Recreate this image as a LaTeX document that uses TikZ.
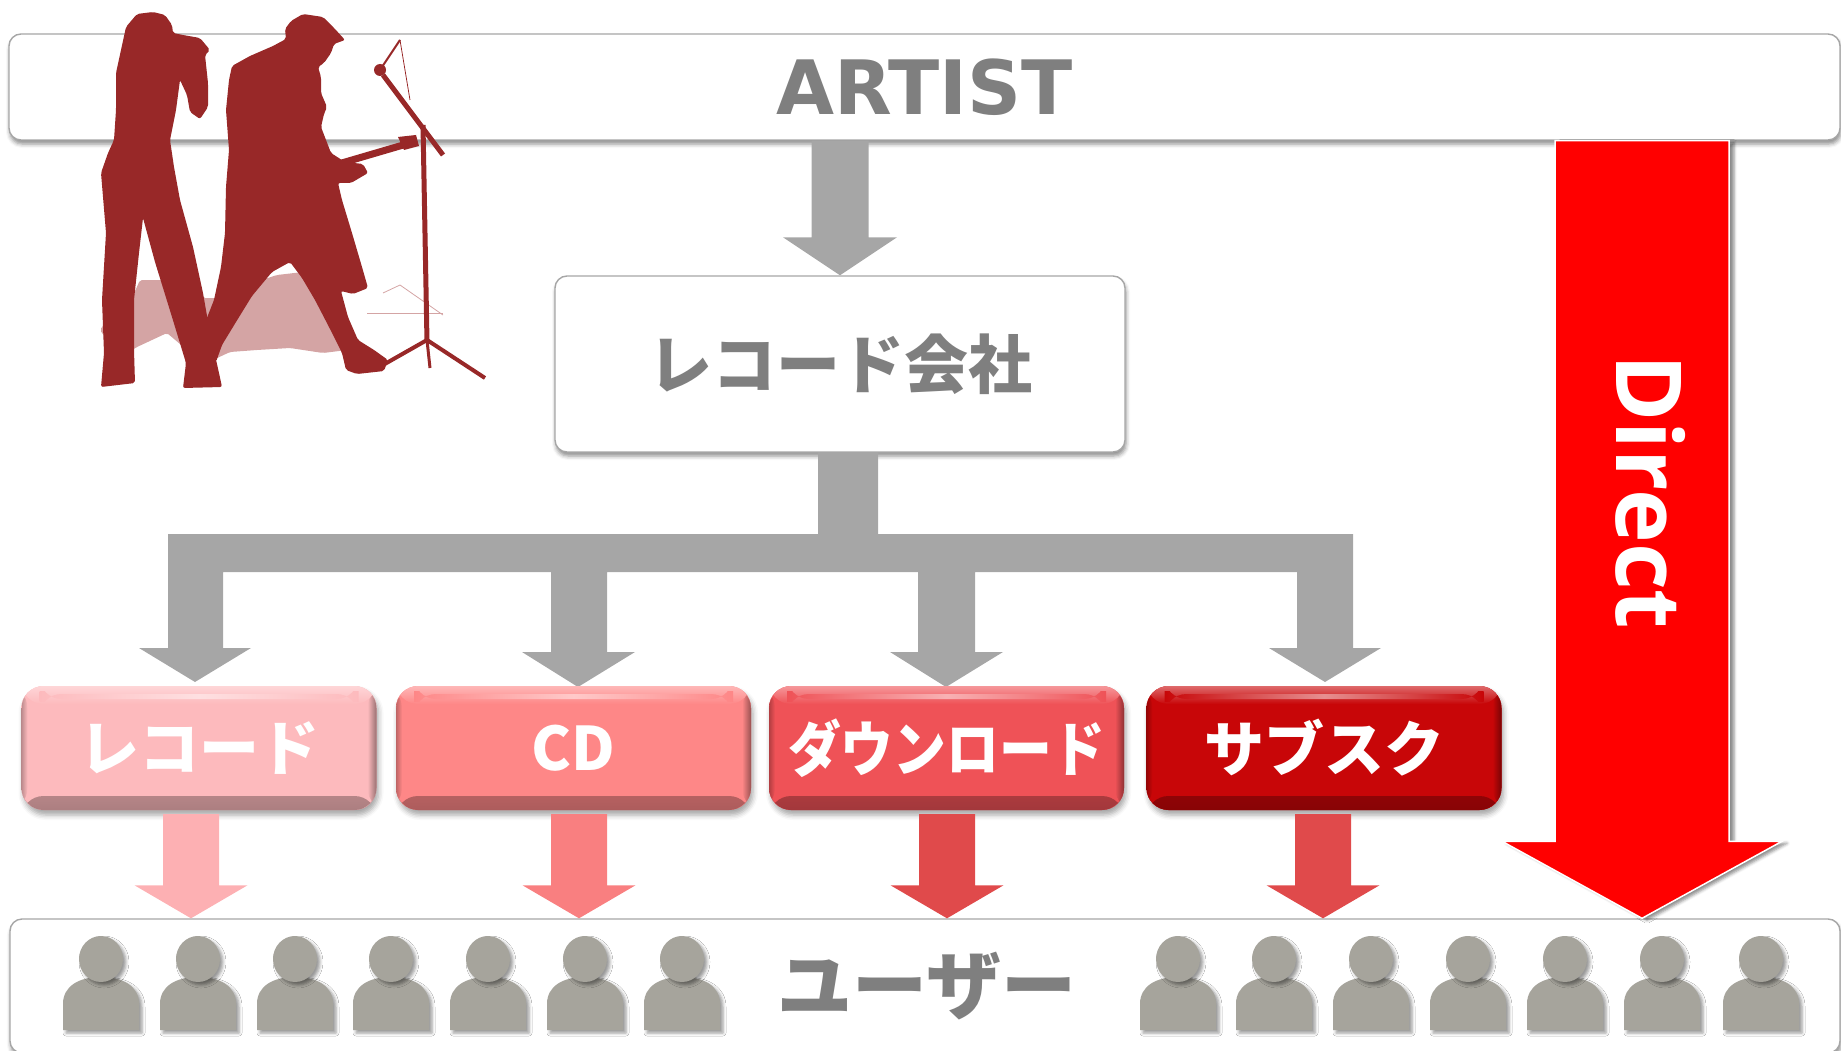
\documentclass[tikz,border=0pt]{standalone}
\usepackage{fontspec}
\newfontfamily\jpfont{Noto Sans CJK JP}
\newfontfamily\artfont{DejaVu Sans}
\newfontfamily\dirfont{Open Sans}
\usetikzlibrary{calc,shadows.blur}

\definecolor{framegray}{HTML}{A6A6A6}
\definecolor{txtgray}{HTML}{7F7F7F}
\definecolor{arrgray}{HTML}{A6A6A6}
\definecolor{band}{HTML}{982828}
\definecolor{bandshadow}{HTML}{D4A4A4}
\definecolor{cRec}{HTML}{FDBABD}
\definecolor{cCD}{HTML}{FE8787}
\definecolor{cDL}{HTML}{EF5257}
\definecolor{cSub}{HTML}{C80608}
\definecolor{aRec}{HTML}{FDB0B3}
\definecolor{aCD}{HTML}{F97F80}
\definecolor{aDL}{HTML}{E04A4B}
\definecolor{direct}{HTML}{FF0000}
\definecolor{person}{HTML}{A6A49C}

% block arrow: #1 start, #2 tip, #3 shaft half width, #4 head half width, #5 head length, #6 style
\newcommand\blockarrow[6]{%
  \fill[#6] ($(#1)+(-#3,0)$) -- ($(#2)+(-#3,-#5)$) -- ($(#2)+(-#4,-#5)$) -- (#2)
    -- ($(#2)+(#4,-#5)$) -- ($(#2)+(#3,-#5)$) -- ($(#1)+(#3,0)$) -- cycle;}

% user icon centred at x = #1
\newcommand\usericon[1]{%
  \fill[person, blur shadow={shadow xshift=3pt, shadow yshift=-3pt, shadow blur radius=3pt, shadow opacity=40}]
    (#1-38,1030) -- (#1-38,1004) .. controls (#1-38,986) and (#1-22,977) .. (#1,977)
    .. controls (#1+22,977) and (#1+38,986) .. (#1+38,1004) -- (#1+38,1030) -- cycle;
  \fill[person, blur shadow={shadow xshift=3pt, shadow yshift=-3pt, shadow blur radius=3pt, shadow opacity=40}]
    (#1,959) ellipse [x radius=22, y radius=23];}

\tikzset{
  softshadow/.style={blur shadow={shadow xshift=1pt, shadow yshift=-4pt,
      shadow blur radius=4pt, shadow opacity=45}},
  panel/.style={draw=framegray, line width=1.4pt, fill=white, rounded corners=12pt, softshadow},
  bevel/.style={rounded corners=22pt, minimum width=355pt, minimum height=124pt,
    fill=#1, text=white, inner sep=0pt,
    font=\jpfont\bfseries\fontsize{60pt}{60pt}\selectfont,
    blur shadow={shadow xshift=2pt, shadow yshift=-5pt, shadow blur radius=5pt, shadow opacity=35},
    path picture={
      \shade[top color=#1, bottom color=#1!68!black]
        ([yshift=14pt]path picture bounding box.south west) rectangle (path picture bounding box.south east);
      \shade[left color=#1, right color=#1!60!black]
        ([xshift=-9pt]path picture bounding box.north east) rectangle (path picture bounding box.south east);
      \shade[left color=#1!75!black, right color=#1]
        (path picture bounding box.north west) rectangle ([xshift=6pt]path picture bounding box.south west);
      \shade[top color=white!40!#1, bottom color=#1]
        (path picture bounding box.north west) rectangle ([yshift=-18pt]path picture bounding box.north east);
      \shade[left color=#1, right color=#1, middle color=white!55!#1]
        ([xshift=18pt,yshift=-8pt]path picture bounding box.north west) rectangle ([xshift=-18pt,yshift=-13pt]path picture bounding box.north east);
    }},
}

\begin{document}
\begin{tikzpicture}[x=1pt, y=-1pt]
\useasboundingbox (0,0) rectangle (1841,1051);

% top band: the artist
\node[panel, minimum width=1831pt, minimum height=106pt, text=txtgray,
      font=\artfont\bfseries\fontsize{75pt}{75pt}\selectfont] (artist) at (924.5,87) {ARTIST};

% performers silhouette
\fill[bandshadow, rounded corners=2pt] (100,330) -- (107,320) -- (123,318) -- (140,280) -- (167,280) -- (200,285)
  -- (203,298) -- (223,298) -- (237,288) -- (277,275) -- (303,272) -- (317,286) -- (330,300)
  -- (343,320) -- (347,350) -- (323,353) -- (290,348) -- (257,350) -- (230,352) -- (213,360)
  -- (187,350) -- (167,333) -- (137,347) -- (127,353) -- (107,340) -- cycle;
\draw[bandshadow, line width=1pt] (367,313) -- (443,313);
\draw[bandshadow, line width=0.8pt] (383,293) -- (400,285) -- (443,315);
% singer
\fill[band, rounded corners=2pt] (153,12) -- (165,15) -- (172,25) -- (173,33) -- (183,35) -- (200,38)
  -- (210,50) -- (205,55) -- (208,83) -- (208,107) -- (200,119) -- (190,112) -- (187,95)
  -- (180,80) -- (176,110) -- (170,140) -- (174,167) -- (180,200) -- (193,247) -- (203,293)
  -- (210,333) -- (219,373) -- (222,387) -- (183,388) -- (186,363) -- (172,317) -- (155,262)
  -- (143,218) -- (139,253) -- (134,300) -- (134,350) -- (135,383) -- (101,387) -- (104,353)
  -- (102,300) -- (106,233) -- (101,173) -- (108,153) -- (114,140) -- (116,110) -- (116,73)
  -- (121,50) -- (126,27) -- (137,14) -- cycle;
% guitarist
\fill[band, rounded corners=2pt] (303,14) -- (323,17) -- (335,29) -- (345,40) -- (334,44) -- (331,53)
  -- (324,63) -- (318,67) -- (321,77) -- (321,93) -- (327,107) -- (324,114) -- (321,127)
  -- (331,153) -- (345,162) -- (363,164) -- (368,173) -- (351,183) -- (338,183) -- (342,200)
  -- (352,233) -- (362,267) -- (368,288) -- (353,294) -- (341,291) -- (348,317) -- (358,340)
  -- (374,350) -- (388,360) -- (384,371) -- (357,374) -- (346,370) -- (342,353) -- (329,327)
  -- (315,300) -- (302,278) -- (290,262) -- (272,272) -- (252,296) -- (236,322) -- (222,345)
  -- (216,362) -- (199,358) -- (201,333) -- (214,300) -- (221,267) -- (225,233) -- (226,187)
  -- (229,150) -- (226,110) -- (229,80) -- (232,66) -- (250,56) -- (273,46) -- (286,39)
  -- (285,29) -- (291,21) -- cycle;
\draw[band, line width=7pt] (335,165) -- (410,143);
\fill[band] (398,137) -- (416,135) -- (419,146) -- (404,150) -- cycle;
% microphone stand
\draw[band, line width=2pt] (380,70) -- (400,40);
\draw[band, line width=0.8pt] (400,40) -- (410,100);
\fill[band] (380,70) circle (6);
\draw[band, line width=5pt] (383,75) -- (443,155);
\draw[band, line width=5pt] (423,125) -- (427,342);
\draw[band, line width=4pt] (427,340) -- (383,365);
\draw[band, line width=4pt] (427,340) -- (485,378);
\draw[band, line width=3pt] (427,340) -- (430,368);

% record company
\node[panel, minimum width=570pt, minimum height=176pt, text=txtgray,
      font=\jpfont\bfseries\fontsize{64pt}{64pt}\selectfont] (label) at (840,364) {レコード会社};
\coordinate (a0) at (artist.south -| label.north);
\blockarrow{a0}{label.north}{28.5}{57}{38}{arrgray}

% distribution tree towards the four channels
\fill[arrgray] (818,452) -- (818,534) -- (168,534) -- (168,648) -- (139,648) -- (195,682)
  -- (251,648) -- (223,648) -- (223,572) -- (551,572) -- (551,652) -- (522,652) -- (578,687)
  -- (635,652) -- (607,652) -- (607,572) -- (918,572) -- (918,652) -- (890,652) -- (946,687)
  -- (1003,652) -- (975,652) -- (975,572) -- (1297,572) -- (1297,648) -- (1269,648)
  -- (1325,682) -- (1381,648) -- (1353,648) -- (1353,534) -- (878,534) -- (878,452) -- cycle;

% the four channels
\node[bevel=cRec] (b1) at (199,748) {レコード};
\node[bevel=cCD]  (b2) at (573.5,748) {CD};
\node[bevel=cDL]  (b3) at (946.5,748) {\scalebox{0.88}[1]{ダウンロード}};
\node[bevel=cSub] (b4) at (1324,748) {サブスク};

% users
\node[panel, minimum width=1830pt, minimum height=134pt] (users) at (925,986) {};
\node[text=txtgray, font=\jpfont\bfseries\fontsize{75pt}{75pt}\selectfont] (userlbl) at (927,986) {ユーザー};
\foreach \px in {101,198,295,391,488,585,682,1178,1274,1371,1468,1565,1662,1761}{\usericon{\px}}

% channel arrows to the users
\coordinate (d1) at (191,0);
\coordinate (d2) at (579,0);
\coordinate (d3) at (947,0);
\coordinate (d4) at (1323,0);
\foreach \i/\c in {1/aRec,2/aCD,3/aDL,4/aDL}{
  \coordinate (s\i) at ($(b\i.south -| d\i)+(0,4)$);
  \coordinate (t\i) at (users.north -| d\i);
  \blockarrow{s\i}{t\i}{28}{56.5}{33}{\c}
}

% direct route from the artist to the users
\coordinate (dx) at (1642,0);
\coordinate (ds) at (artist.south -| dx);
\coordinate (dt) at (users.north -| dx);
\blockarrow{ds}{dt}{87}{140}{77}{direct, draw=white, line width=1.5pt,
  blur shadow={shadow xshift=5pt, shadow yshift=-2pt, shadow blur radius=3pt, shadow opacity=45}}
\node[rotate=-90, text=white, font=\dirfont\bfseries\fontsize{91pt}{91pt}\selectfont] (directlbl) at (1651,492) {Direct};
\end{tikzpicture}
\end{document}
